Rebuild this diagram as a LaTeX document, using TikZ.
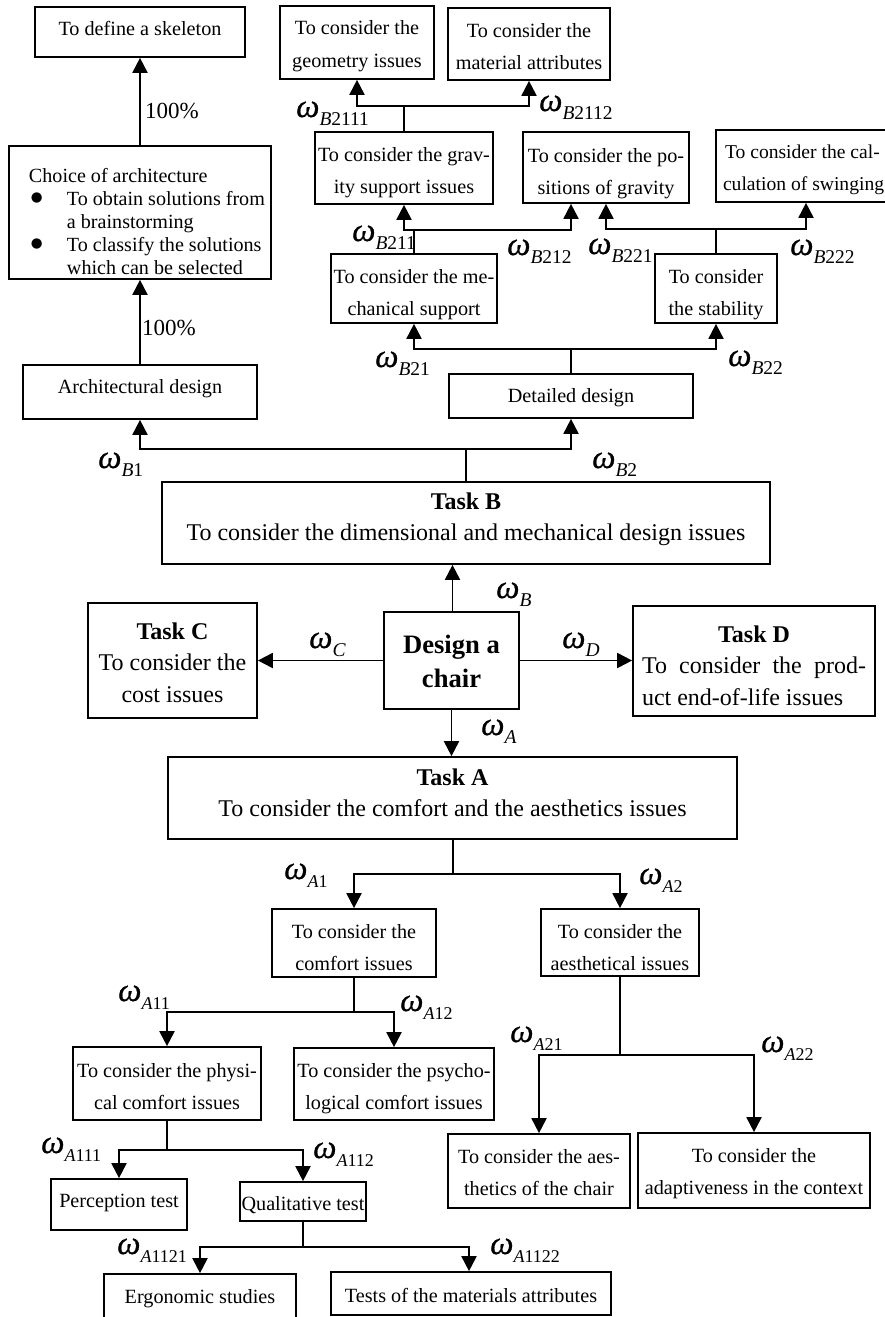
\documentclass[tikz,border=0pt]{standalone}
\usepackage{fontspec}
\setmainfont{Liberation Serif}
\newfontfamily\bulletfont{DejaVu Sans}
\newfontfamily\wfont[ItalicFeatures={FakeBold=0.6}]{Liberation Serif}
\usetikzlibrary{arrows.meta}
\newcommand\fa{\fontsize{20.2}{32}\selectfont}
\newcommand\fe{\fontsize{19.6}{32}\selectfont}
\newcommand\fb{\fontsize{24}{31.5}\selectfont}
\newcommand\fc{\fontsize{26.6}{34}\selectfont\bfseries}
\newcommand\fd{\fontsize{20.1}{23}\selectfont}
\newcommand\lin[1]{\hbox to \hsize{\hss\rule{0pt}{0.8em}#1\hss}}
\newcommand\lft[2]{\hbox to \hsize{\kern#1pt\rule{0pt}{0.8em}#2\hss}}
\newcommand\bul{\makebox[36pt][l]{\raisebox{3.5pt}{\bulletfont\fontsize{13.5}{13.5}\selectfont ●}}}
\newcommand\bx[8][\fa]{%
  \pgfmathsetmacro\bxw{#5-#3}\pgfmathsetmacro\bxh{#6-#4}\pgfmathsetmacro\bxd{#7-#4}%
  \node[boxnode] (#2) at ({(#3+#5)/2},{(#4+#6)/2})
    {\parbox[c][\bxh pt][t]{\bxw pt}{#1\vspace*{\dimexpr\bxd pt-0.8em\relax}#8}};}
\newcommand\wl[6][\fontsize{19.5}{19.5}\selectfont]{%
  \node[wlab] (#2) at (#3,#4) {{\wfont\fontsize{33}{33}\selectfont\itshape ω}\raisebox{-8.5pt}{#1\textit{#5}#6}};}
\newcommand\wla[5]{\wl[\fontsize{18}{18}\selectfont]{#1}{#2}{#3}{#4}{#5}}
\tikzset{
  boxnode/.style={draw=black,line width=1.7pt,rectangle,inner sep=0pt},
  wlab/.style={anchor=base west,inner sep=0pt},
  pct/.style={anchor=base west,inner sep=0pt,font=\fontsize{23}{23}\selectfont},
  ln/.style={draw=black,line width=1.9pt},
  arr/.style={ln,-{Triangle[width=15pt,length=15pt]}}
}
\begin{document}
\begin{tikzpicture}[x=1pt,y=-1pt]
\useasboundingbox (0,0) rectangle (885,1317);
\clip (0,0) rectangle (885,1317);
% left column
\bx{skel}{35}{7}{245}{57}{35}{\lin{To define a skeleton}}
\bx[\fd]{choice}{9}{146}{271}{279}{182}{%
  \lft{20}{Choice of architecture}
  \lft{22}{\bul To obtain solutions from}
  \lft{58}{a brainstorming}
  \lft{22}{\bul To classify the solutions}
  \lft{58}{which can be selected}}
\bx{arch}{23}{365}{257}{419}{393}{\lin{Architectural design}}
% upper right tree
\bx{geom}{280}{6}{434}{79}{35}{\lin{To consider the}\lin{geometry issues}}
\bx{mat}{448}{8}{610}{80}{37}{\lin{To consider the}\lin{material attributes}}
\bx{grav}{315}{132}{493}{204}{161}{\lin{To consider the grav-}\lin{ity support issues}}
\bx{pos}{523}{132}{689}{203}{162}{\lin{To consider the po-}\lin{sitions of gravity}}
\bx[\fe]{swing}{716}{130}{896}{202}{158}{\lft{9}{To consider the cal-}\lft{7}{culation of swinging}}
\bx{mech}{331}{254}{497}{323}{283}{\lin{To consider the me-}\lin{chanical support}}
\bx{stab}{655}{254}{777}{323}{283}{\lin{To consider}\lin{the stability}}
\bx{det}{449}{374}{693}{418}{402}{\lin{Detailed design}}
% centre
\bx[\fb]{tb}{162}{482}{770}{564}{509}{\lin{\bfseries Task B}\lin{To consider the dimensional and mechanical design issues}}
\bx[\fb]{tc}{88}{603}{257}{718}{639}{\lin{\bfseries Task C}\lin{To consider the}\lin{cost issues}}
\bx[\fc]{ds}{384}{612}{519}{709}{653}{\lin{Design a}\lin{chair}}
\bx[\fb]{td}{633}{606}{875}{716}{642}{\lin{\bfseries Task D}\lin{\hbox to 224pt{To\hfill consider\hfill the\hfill prod-}}\lin{\hbox to 224pt{uct end-of-life issues\hfill}}}
\bx[\fb]{ta}{168}{757}{737}{839}{785}{\lin{\bfseries Task A}\lin{To consider the comfort and the aesthetics issues}}
% lower tree
\bx{comf}{272}{909}{436}{977}{938}{\lin{To consider the}\lin{comfort issues}}
\bx{aest}{541}{909}{699}{976}{938}{\lin{To consider the}\lin{aesthetical issues}}
\bx{phys}{73}{1047}{261}{1120}{1077}{\lin{To consider the physi-}\lin{cal comfort issues}}
\bx{psyc}{294}{1048}{494}{1120}{1077}{\lin{To consider the psycho-}\lin{logical comfort issues}}
\bx{perc}{51}{1179}{187}{1230}{1207}{\lin{Perception test}}
\bx{qual}{240}{1182}{366}{1221}{1210}{\lin{Qualitative test}}
\bx{aesc}{448}{1134}{630}{1208}{1163}{\lin{To consider the aes-}\lin{thetics of the chair}}
\bx{adap}{638}{1133}{870}{1208}{1162}{\lin{To consider the}\lin{adaptiveness in the context}}
\bx{ergo}{104}{1274}{296}{1345}{1303}{\lin{Ergonomic studies}}
\bx{test}{331}{1272}{611}{1315}{1302}{\lin{Tests of the materials attributes}}
% junctions
\coordinate (jb) at (466,449);
\coordinate (jd) at (571,349);
\coordinate (jm) at (414,230);
\coordinate (js) at (716,229);
\coordinate (jg) at (404,106);
\coordinate (ja) at (453,874);
\coordinate (jc) at (354,1012);
\coordinate (jp) at (167,1150);
\coordinate (jq) at (303,1247);
\coordinate (je) at (620,1055);
% connectors
\draw[arr] (choice.north -| skel.south) -- (skel.south);
\draw[arr] (arch.north) -- (arch.north |- choice.south);
\draw[ln] (tb.north -| jb) -- (jb);
\draw[arr] (jb) -| (arch.south);
\draw[arr] (jb) -| (det.south);
\draw[ln] (det.north) -- (jd);
\draw[arr] (jd) -| (mech.south);
\draw[arr] (jd) -| (stab.south);
\draw[ln] (mech.north) -- (jm);
\draw[arr] (jm) -| (grav.south);
\draw[arr] (jm) -| ([xshift=-35pt]pos.south);
\draw[ln] (stab.north) -- (js);
\draw[arr] (js) -| (pos.south);
\draw[arr] (js) -| (swing.south);
\draw[ln] (grav.north) -- (jg);
\draw[arr] (jg) -| (geom.south);
\draw[arr] (jg) -| (mat.south);
\draw[arr] ([xshift=1pt]ds.north) -- ([xshift=1pt]ds.north |- tb.south);
\draw[arr] (ds.south) -- (ds.south |- ta.north);
\draw[arr] (ds.west) -- (ds.west -| tc.east);
\draw[arr] (ds.east) -- (ds.east -| td.west);
\draw[ln] (ta.south -| ja) -- (ja);
\draw[arr] (ja) -| (comf.north);
\draw[arr] (ja) -| (aest.north);
\draw[ln] (comf.south) -- (jc);
\draw[arr] (jc) -| (phys.north);
\draw[arr] (jc) -| (psyc.north);
\draw[ln] (phys.south) -- (jp);
\draw[arr] (jp) -| (perc.north);
\draw[arr] (jp) -| (qual.north);
\draw[ln] (qual.south) -- (jq);
\draw[arr] (jq) -| (ergo.north);
\draw[arr] (jq) -| ([xshift=-2pt]test.north);
\draw[ln] (aest.south) -- (je);
\draw[arr] (je) -| (aesc.north);
\draw[arr] (je) -| (adap.north);
% percent labels
\node[pct] (p1) at (145,118) {100\%};
\node[pct] (p2) at (142,335) {100\%};
% weights
\wl{w1}{296}{117}{B}{2111}
\wl{w2}{539}{111}{B}{2112}
\wl{w3}{352}{241}{B}{211}
\wl{w4}{507}{255}{B}{212}
\wl{w5}{588}{254}{B}{221}
\wl{w6}{790}{255}{B}{222}
\wl{w7}{375}{367}{B}{21}
\wl{w8}{728}{366}{B}{22}
\wl{w9}{98}{468}{B}{1}
\wl{w10}{592}{468}{B}{2}
\wl{w11}{496}{598}{B}{}
\wl{w12}{309}{648}{C}{}
\wl{w13}{562}{648}{D}{}
\wl{w14}{481}{735}{A}{}
\wla{w15}{284}{879}{A}{1}
\wla{w16}{639}{884}{A}{2}
\wla{w17}{118}{1001}{A}{11}
\wla{w18}{400}{1011}{A}{12}
\wla{w19}{41}{1153}{A}{111}
\wla{w20}{313}{1158}{A}{112}
\wla{w21}{510}{1042}{A}{21}
\wla{w22}{761}{1052}{A}{22}
\wla{w23}{117}{1254}{A}{1121}
\wla{w24}{490}{1254}{A}{1122}
\end{tikzpicture}
\end{document}
